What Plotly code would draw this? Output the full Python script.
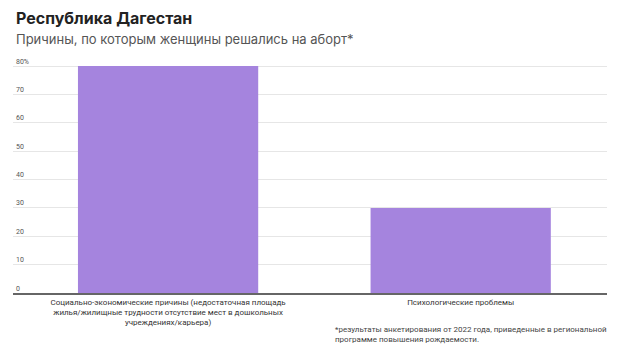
import plotly.graph_objects as go

categories = [
    "Социально-экономические причины (недостаточная площадь<br>жилья/жилищные трудности отсутствие мест в дошкольных<br>учреждениях/карьера)",
    "Психологические проблемы",
]
values = [80, 30]
tick_vals = [0, 10, 20, 30, 40, 50, 60, 70, 80]
tick_text = ["0", "10", "20", "30", "40", "50", "60", "70", "80%"]

fig = go.Figure()
fig.add_trace(go.Bar(
    x=[0, 1], y=values, marker=dict(color="#A584DE", line=dict(width=0)),
    width=0.616, hoverinfo="skip",
))

fig.update_layout(
    width=620, height=353,
    margin=dict(l=13, r=13, t=57, b=60),
    paper_bgcolor="white", plot_bgcolor="white",
    font=dict(family="Roboto", color="#333333"),
    showlegend=False,
    xaxis=dict(
        range=[-0.53, 1.5], tickvals=[0, 1], ticktext=categories,
        tickfont=dict(size=8, color="#333333"), showgrid=False,
        showline=True, linecolor="#666666", linewidth=2, ticks="", zeroline=False,
    ),
    yaxis=dict(
        range=[0, 83.2], tickvals=tick_vals, ticktext=tick_text,
        ticklabelposition="inside top", tickfont=dict(size=7, color="#555555"),
        showgrid=True, gridcolor="#e6e6e6", gridwidth=1, zeroline=False,
        showline=False, ticks="",
    ),
    annotations=[
        dict(text="<b>Республика Дагестан</b>", x=0, y=1, xref="paper", yref="paper",
             xanchor="left", yanchor="bottom", yshift=27, xshift=1, showarrow=False,
             font=dict(size=16, color="#222222", family="Inter")),
        dict(text="Причины, по которым женщины решались на аборт*", x=0, y=1, xref="paper", yref="paper",
             xanchor="left", yanchor="bottom", yshift=8, xshift=1, showarrow=False,
             font=dict(size=13, color="#555555", family="Inter")),
        dict(text="*результаты анкетирования от 2022 года, приведенные в региональной<br>программе повышения рождаемости.",
             xref="paper", yref="paper", x=0.539, y=0, xanchor="left", yanchor="top",
             yshift=-30, align="left", showarrow=False, font=dict(size=8, color="#444444")),
    ],
)

fig.write_html("out.html")
